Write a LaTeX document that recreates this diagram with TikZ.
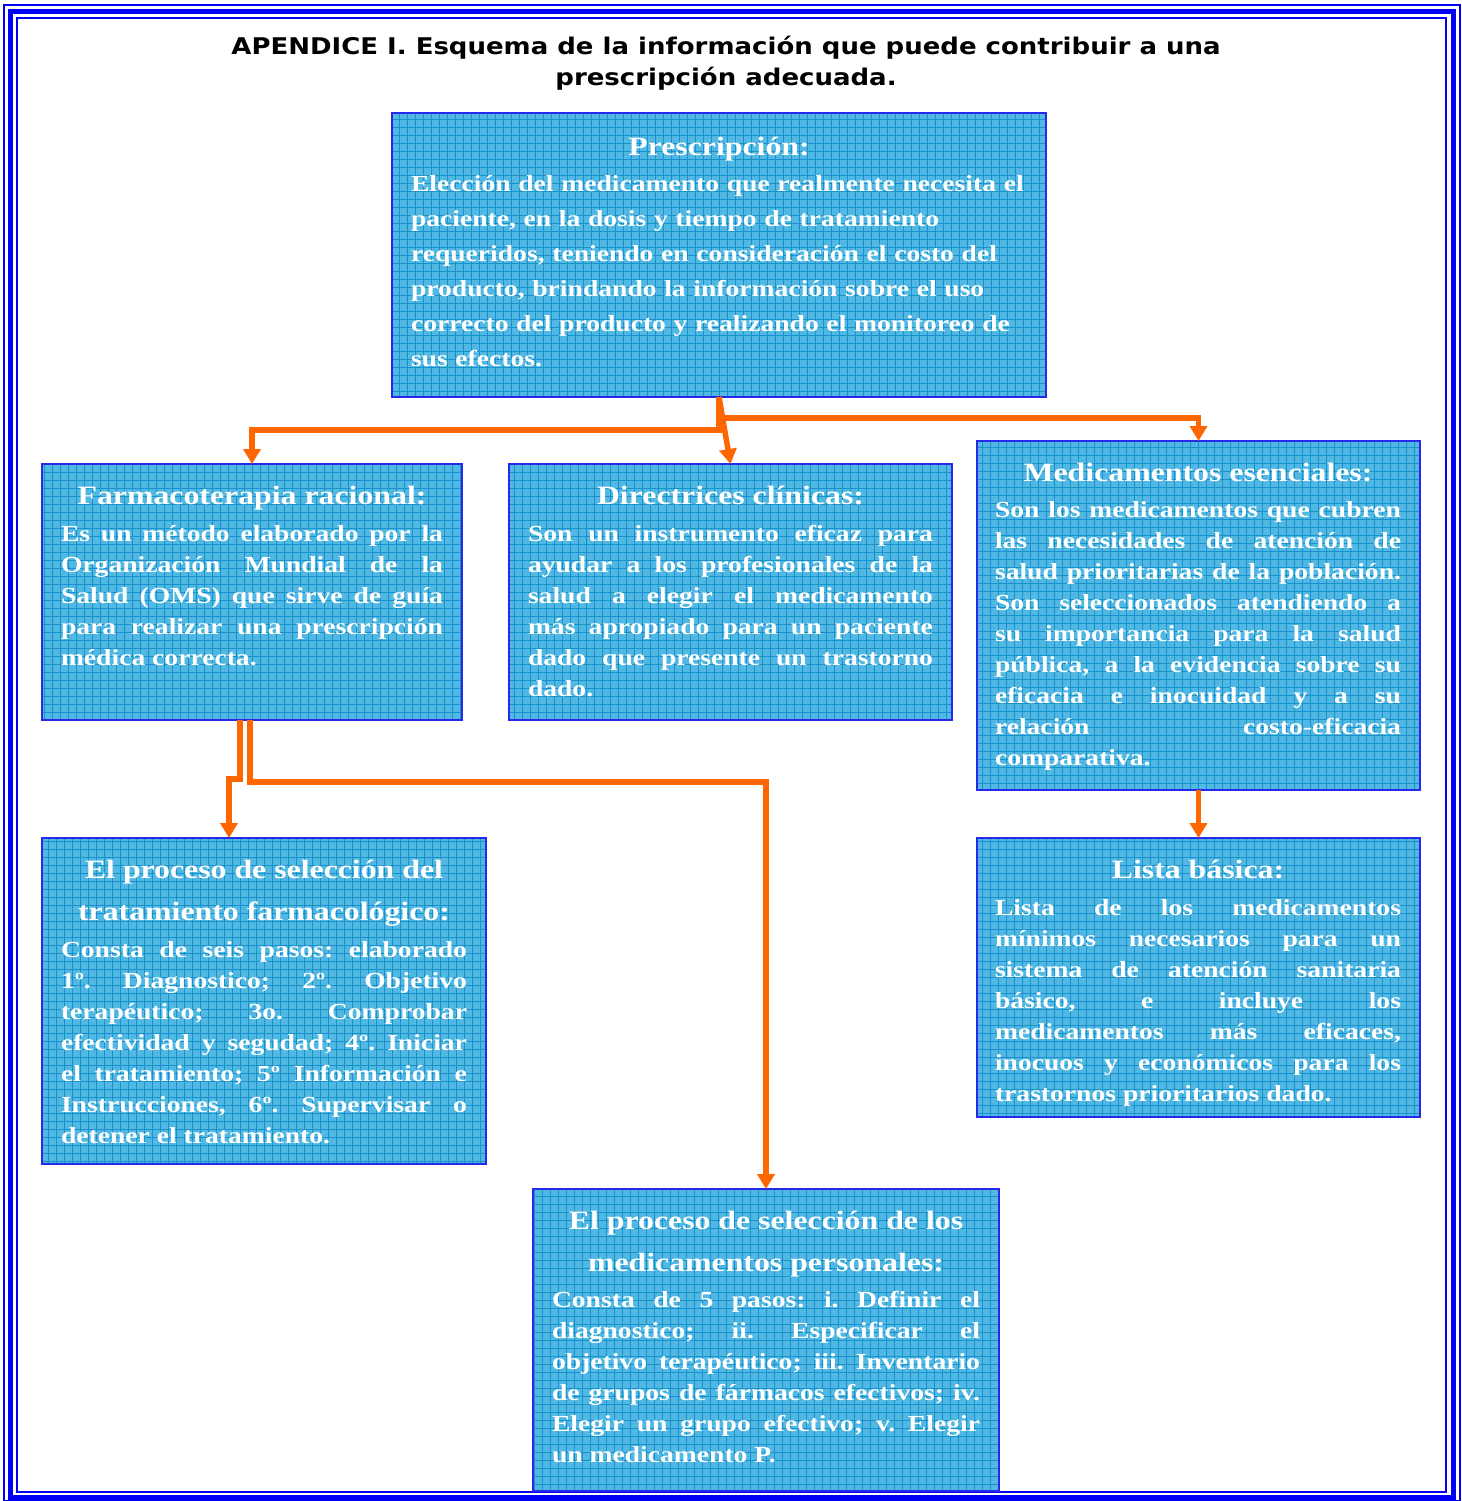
\documentclass[tikz,border=0pt]{standalone}
\usepackage{fontspec}
\setmainfont{Liberation Serif}[FakeStretch=1.2]
\newfontfamily\titlefont{DejaVu Sans}[FakeStretch=1.13]
\usetikzlibrary{arrows.meta}
\definecolor{boxfill}{RGB}{80,184,226}
\definecolor{gridc}{RGB}{24,146,204}
\definecolor{boxline}{RGB}{40,40,235}
\definecolor{connc}{RGB}{255,102,0}
\definecolor{framec}{RGB}{0,0,245}
\newcommand{\hd}{\fontsize{26.5}{42}\selectfont}
\newcommand{\bd}{\fontsize{23}{31}\selectfont}
\newcommand{\hstrut}{\rule{0pt}{40pt}}
\tikzset{
 box/.style={draw=boxline, line width=1.5pt, fill=boxfill, anchor=north west,
   inner sep=0pt, outer sep=0pt,
   path picture={\draw[gridc, line width=0.9pt, step=8pt]
     (path picture bounding box.south west) grid (path picture bounding box.north east);}},
 txt/.style={anchor=north west, inner sep=0pt, outer sep=0pt, text=white,
   font=\bfseries\bd, align=justify,
   execute at begin node={\parindent0pt\hyphenpenalty10000\exhyphenpenalty10000\frenchspacing}},
 conn/.style={draw=connc, line width=5.5pt, -{Triangle[width=17pt,length=15pt]}},
 titlestyle/.style={font=\titlefont\bfseries\fontsize{23}{31}\selectfont, align=center, inner sep=0pt},
 framethin/.style={draw=framec, line width=2pt},
 framethick/.style={draw=framec, line width=5pt}
}
\begin{document}
\begin{tikzpicture}[x=1pt,y=-1pt]
\useasboundingbox (0,0) rectangle (1461,1501);
\fill[white] (0,0) rectangle (1461,1501);
% frame
\draw[framethin] (4,5) rectangle (1459.5,1500.5);
\draw[framethick] (10.5,11.5) rectangle (1453,1497);
\draw[framethin] (16.5,18) rectangle (1446,1492);

% title
\node[titlestyle] (title) at (726,63) {APENDICE I. Esquema de la información que puede contribuir a una\\prescripción adecuada.};

% boxes
\node[box, minimum width=654pt, minimum height=284pt] (presc) at (392,113) {};
\node[box, minimum width=420pt, minimum height=256pt] (farm) at (42,464) {};
\node[box, minimum width=443pt, minimum height=256pt] (direc) at (509,464) {};
\node[box, minimum width=443pt, minimum height=349pt] (med) at (977,441) {};
\node[box, minimum width=444pt, minimum height=326pt] (proc1) at (42,838) {};
\node[box, minimum width=443pt, minimum height=279pt] (lista) at (977,838) {};
\node[box, minimum width=466pt, minimum height=302pt] (proc2) at (533,1189) {};

% texts
\node[txt, text width=616pt, align=left, font=\bfseries\fontsize{23}{35}\selectfont] (tpresc) at ([xshift=19pt]presc.north west) {%
{\centering\hd\rule{0pt}{42pt}Prescripción:\par}\vspace{1pt}
Elección del medicamento que realmente necesita el\\
paciente, en la dosis y tiempo de tratamiento\\
requeridos, teniendo en consideración el costo del\\
producto, brindando la información sobre el uso\\
correcto del producto y realizando el monitoreo de\\
sus efectos.};

\node[txt, text width=382pt] (tfarm) at ([xshift=19pt]farm.north west) {%
{\centering\hd\hstrut Farmacoterapia racional:\par}\vspace{6pt}
Es un método elaborado por la\linebreak
Organización Mundial de la\linebreak
Salud (OMS) que sirve de guía\linebreak
para realizar una prescripción\linebreak
médica correcta.};

\node[txt, text width=405pt] (tdirec) at ([xshift=19pt]direc.north west) {%
{\centering\hd\hstrut Directrices clínicas:\par}\vspace{6pt}
Son un instrumento eficaz para\linebreak
ayudar a los profesionales de la\linebreak
salud a elegir el medicamento\linebreak
más apropiado para un paciente\linebreak
dado que presente un trastorno\linebreak
dado.};

\node[txt, text width=406pt] (tmed) at ([xshift=18pt]med.north west) {%
{\centering\hd\hstrut Medicamentos esenciales:\par}\vspace{5pt}
Son los medicamentos que cubren\linebreak
las necesidades de atención de\linebreak
salud prioritarias de la población.\linebreak
Son seleccionados atendiendo a\linebreak
su importancia para la salud\linebreak
pública, a la evidencia sobre su\linebreak
eficacia e inocuidad y a su\linebreak
relación costo-eficacia\linebreak
comparativa.};

\node[txt, text width=406pt] (tproc1) at ([xshift=19pt]proc1.north west) {%
{\centering\hd\hstrut El proceso de selección del\\tratamiento farmacológico:\par}\vspace{6pt}
Consta de seis pasos: elaborado\linebreak
1º. Diagnostico; 2º. Objetivo\linebreak
terapéutico; 3o. Comprobar\linebreak
efectividad y segudad; 4º. Iniciar\linebreak
el tratamiento; 5º Información e\linebreak
Instrucciones, 6º. Supervisar o\linebreak
detener el tratamiento.};

\node[txt, text width=406pt] (tlista) at ([xshift=18pt]lista.north west) {%
{\centering\hd\hstrut Lista básica:\par}\vspace{6pt}
Lista de los medicamentos\linebreak
mínimos necesarios para un\linebreak
sistema de atención sanitaria\linebreak
básico, e incluye los\linebreak
medicamentos más eficaces,\linebreak
inocuos y económicos para los\linebreak
trastornos prioritarios dado.};

\node[txt, text width=428pt] (tproc2) at ([xshift=19pt]proc2.north west) {%
{\centering\hd\hstrut El proceso de selección de los\\medicamentos personales:\par}\vspace{5pt}
Consta de 5 pasos: i. Definir el\linebreak
diagnostico; ii. Especificar el\linebreak
objetivo terapéutico; iii. Inventario\linebreak
de grupos de fármacos efectivos; iv.\linebreak
Elegir un grupo efectivo; v. Elegir\linebreak
un medicamento P.};

% connectors
\draw[conn] (presc.south) -- ++(0,33) -| (farm.north);
\draw[conn] (presc.south) -- (direc.north);
\draw[conn] ([xshift=4pt]presc.south) ++(0,21) -| (med.north);
\draw[conn] (med.south) -- (lista.north);
\draw[conn] ([xshift=-12pt]farm.south) -- ++(0,59) -| ([xshift=-35pt]proc1.north);
\draw[conn] ([xshift=-2pt]farm.south) -- ++(0,62) -| (proc2.north);
\end{tikzpicture}
\end{document}
